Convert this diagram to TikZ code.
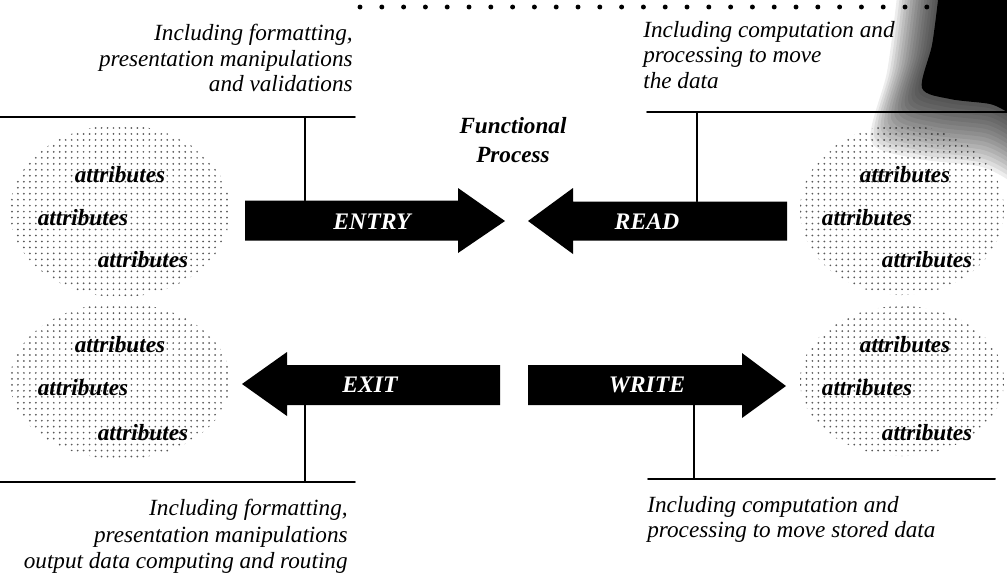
\documentclass[tikz,border=0pt]{standalone}
\usepackage{fontspec}
\setmainfont{Liberation Serif}
\usetikzlibrary{patterns.meta}

\newcommand\smudgepath{plot[smooth] coordinates {(938,0) (932,45) (922,88) (950,99) (990,104) (1007,112)} -- (1007,0) -- cycle}

\begin{document}
\begin{tikzpicture}[line cap=round,line join=round,x=0.02cm,y=-0.02cm,
  note/.style={font=\fontsize{13.2}{14.5}\selectfont\itshape,inner sep=0pt},
  attr/.style={font=\fontsize{13.2}{15}\selectfont\bfseries\itshape,inner sep=0pt},
  flow/.style={font=\fontsize{13.5}{15}\selectfont\bfseries\itshape,text=white,inner sep=0pt},
  cloud/.style={pattern={Dots[distance=3.4pt,radius=0.55pt]},pattern color=black!65},
  rule/.style={line width=1.1pt},
  tick/.style={line width=0.8pt}]

\useasboundingbox (0,0) rectangle (1007,576);

% dotted rule at the top
\foreach \i in {0,...,30}
  \fill (360+21.8*\i,7) circle (1.4pt);

% stippled groups of attributes
\path[cloud] (120,211) ellipse [x radius=110, y radius=86];
\path[cloud] (120,381) ellipse [x radius=110, y radius=78];
\path[cloud] (902,210) ellipse [x radius=102, y radius=85];
\path[cloud] (902,381) ellipse [x radius=102, y radius=75];

\node[attr] (a1) at (120,175) {attributes};
\node[attr] (a2) at (83,218) {attributes};
\node[attr] (a3) at (143,260) {attributes};
\node[attr] (b1) at (120,345) {attributes};
\node[attr] (b2) at (83,388) {attributes};
\node[attr] (b3) at (143,433) {attributes};
\node[attr] (c1) at (905,175) {attributes};
\node[attr] (c2) at (867,218) {attributes};
\node[attr] (c3) at (927,260) {attributes};
\node[attr] (d1) at (905,345) {attributes};
\node[attr] (d2) at (867,388) {attributes};
\node[attr] (d3) at (927,433) {attributes};

% block arrows
\fill (245,200.5) -- (458,200.5) -- (458,188) -- (505,221) -- (458,253) -- (458,240.5) -- (245,240.5) -- cycle;
\fill (787,201.5) -- (573,201.5) -- (573,188) -- (528,221) -- (573,254) -- (573,240.5) -- (787,240.5) -- cycle;
\fill (500,365) -- (287,365) -- (287,352) -- (242,384) -- (287,416) -- (287,405) -- (500,405) -- cycle;
\fill (528,365) -- (742,365) -- (742,353) -- (786,386) -- (742,418) -- (742,405) -- (528,405) -- cycle;

\node[flow] (entry) at (372,222) {ENTRY};
\node[flow] (read) at (647,222) {READ};
\node[flow] (exit) at (370,385) {EXIT};
\node[flow] (write) at (647,385) {WRITE};

\node[attr,align=center,font=\fontsize{13.2}{16.4}\selectfont\bfseries\itshape] (fp) at (513,140) {Functional\\Process};

% rules and ticks
\draw[rule] (0,117) -- (355,117);
\draw[tick] (305,117) -- (305,200.5);
\draw[rule] (647,112) -- (1007,112);
\draw[tick] (697,112) -- (697,201.5);
\draw[rule] (0,482) -- (355,482);
\draw[tick] (305,405) -- (305,482);
\draw[rule] (648,479) -- (995,479);
\draw[tick] (694,405) -- (694,479);

% notes
\node[note,anchor=north east,align=right] (entrynote) at (353,24) {Including formatting,\\presentation manipulations\\and validations};
\node[note,anchor=north west,align=left] (readnote) at (643,21) {Including computation and\\processing to move\\the data};
\node[note,anchor=north east,align=right,font=\fontsize{13.2}{15}\selectfont\itshape] (exitnote) at (348,499) {Including formatting,\\presentation manipulations\\output data computing and routing};
\node[note,anchor=north west,align=left,font=\fontsize{13.2}{14}\selectfont\itshape] (writenote) at (647,496) {Including computation and\\processing to move stored data};

% dark smudge in the corner
\foreach \s in {1.6,1.56,...,1.01}
  \fill[black,opacity=0.07,scale around={\s:(1007,0)}] \smudgepath;
\fill[black] \smudgepath;
\end{tikzpicture}
\end{document}
